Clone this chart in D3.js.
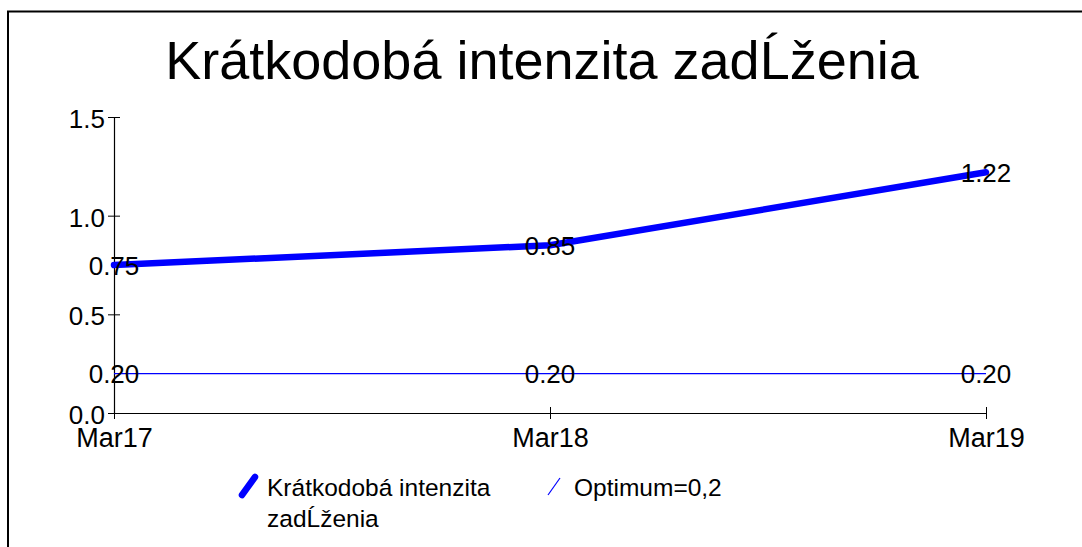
<!DOCTYPE html>
<html>
<head>
<meta charset="utf-8">
<script src="https://cdn.jsdelivr.net/npm/d3@7"></script>
<style>
  body { margin: 0; background: #fff; }
  svg { display: block; font-family: "Liberation Sans", Arial, sans-serif; }
</style>
</head>
<body>
<svg id="chart"></svg>
<script>
const width = 1082;
const height = 547;
const margin = { top: 117, right: 96, bottom: 134, left: 114 };

const chartTitle = "Krátkodobá intenzita zadĹženia";
const categories = ["Mar17", "Mar18", "Mar19"];
const intensity = [0.75, 0.85, 1.22];
const optimum = [0.2, 0.2, 0.2];
const yTicks = [0.0, 0.5, 1.0, 1.5];
const seriesNames = ["Krátkodobá intenzita", "zadĹženia"];
const optimumName = "Optimum=0,2";

const svg = d3.select("#chart")
  .attr("width", width)
  .attr("height", height);

// outer frame (runs off the right and bottom edge)
svg.append("rect")
  .attr("x", 8)
  .attr("y", 11.5)
  .attr("width", width + 20)
  .attr("height", height + 20)
  .attr("fill", "none")
  .attr("stroke", "#000")
  .attr("stroke-width", 2);

// title
svg.append("text")
  .attr("x", 542)
  .attr("y", 79)
  .attr("text-anchor", "middle")
  .style("font-size", "54px")
  .text(chartTitle);

//scales
const xScale = d3.scalePoint()
  .domain(categories)
  .range([margin.left, width - margin.right]);

const yScale = d3.scaleLinear()
  .domain([0, 1.5])
  .range([height - margin.bottom, margin.top]);

// axes
const xAxis = svg.append("g")
  .attr("transform", `translate(0,${yScale(0)})`)
  .call(d3.axisBottom(xScale).tickSizeInner(6).tickSizeOuter(0));
xAxis.selectAll(".tick line").attr("y1", -6);
xAxis.selectAll(".tick text").attr("y", 34).attr("dy", 0).style("font-size", "27px");

const yAxis = svg.append("g")
  .attr("transform", `translate(${margin.left},0)`)
  .call(d3.axisLeft(yScale).tickValues(yTicks).tickFormat(d3.format(".1f")).tickSizeInner(6).tickSizeOuter(0).tickPadding(3));
yAxis.selectAll(".tick line").attr("x1", 6);
yAxis.selectAll(".tick text").attr("dy", "0.4em").style("font-size", "26px");

svg.selectAll(".domain").attr("stroke", "#000").attr("stroke-width", 1.2);
svg.selectAll(".tick line").attr("stroke", "#000");
svg.selectAll(".tick text")
  .attr("fill", "#000")
  .style("font-family", "'Liberation Sans', Arial, sans-serif");

// lines
const line = d3.line()
  .x((d, i) => xScale(categories[i]))
  .y(d => yScale(d));

svg.append("path")
  .datum(optimum)
  .attr("d", line)
  .attr("fill", "none")
  .attr("stroke", "#0000ff")
  .attr("stroke-width", 1.2);

svg.append("path")
  .datum(intensity)
  .attr("d", line)
  .attr("fill", "none")
  .attr("stroke", "#0000ff")
  .attr("stroke-width", 6.5)
  .attr("stroke-linecap", "round")
  .attr("stroke-linejoin", "round");

// data labels
function addLabels(values) {
  svg.selectAll(null)
    .data(values)
    .enter()
    .append("text")
      .attr("x", (d, i) => xScale(categories[i]))
      .attr("y", d => yScale(d))
      .attr("dy", "0.38em")
      .attr("text-anchor", "middle")
      .style("font-size", "26px")
      .text(d => d3.format(".2f")(d));
}
addLabels(optimum);
addLabels(intensity);

// legend
const legend = svg.append("g");
legend.append("line")
  .attr("x1", 242).attr("y1", 495)
  .attr("x2", 255).attr("y2", 477)
  .attr("stroke", "#0000ff")
  .attr("stroke-width", 6.5)
  .attr("stroke-linecap", "round");
legend.append("text")
  .attr("x", 267)
  .attr("y", 496)
  .style("font-size", "24.5px")
  .selectAll("tspan")
  .data(seriesNames)
  .enter()
  .append("tspan")
    .attr("x", 267)
    .attr("dy", (d, i) => i === 0 ? 0 : 31)
    .text(d => d);

legend.append("line")
  .attr("x1", 548).attr("y1", 495)
  .attr("x2", 560).attr("y2", 478)
  .attr("stroke", "#0000ff")
  .attr("stroke-width", 1.2);
legend.append("text")
  .attr("x", 574)
  .attr("y", 496)
  .style("font-size", "24.5px")
  .text(optimumName);
</script>
</body>
</html>
